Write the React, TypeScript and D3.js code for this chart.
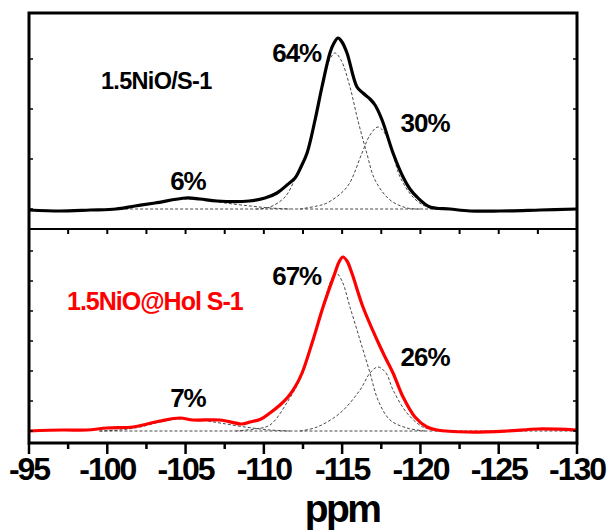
import React from "react";
import * as d3 from "d3";

// ---------- data (ppm, intensity above baseline) ----------
const topSpectrum: [number, number][] = [
  [-95.0, -1], [-96.98, -2], [-98.9, -1], [-100.56, 0], [-101.77, 3], [-103.05, 6],
  [-105.03, 11], [-105.92, 10], [-107.01, 8], [-109.05, 8], [-110.07, 11], [-110.84, 16],
  [-111.48, 24], [-111.99, 31], [-112.37, 42], [-112.76, 56], [-113.27, 89], [-113.71, 122],
  [-114.22, 156], [-114.48, 166], [-114.74, 171], [-114.99, 167], [-115.31, 156], [-115.95, 122],
  [-116.33, 116], [-116.78, 110], [-117.1, 104], [-117.55, 89], [-118.25, 56], [-118.89, 32],
  [-119.33, 20], [-119.78, 12], [-120.61, 2], [-121.89, 0], [-123.17, -2], [-125.08, -2],
  [-127.64, -1], [-130.0, 0],
];
const topComp1: [number, number][] = [
  [-109.5, 0], [-110.39, 2], [-111.35, 12], [-111.99, 30], [-112.76, 56], [-113.27, 89],
  [-113.71, 121], [-114.16, 148], [-114.54, 156], [-114.93, 149], [-115.5, 122], [-116.0, 89],
  [-116.57, 56], [-117.1, 29], [-118.06, 9], [-119.14, 1], [-119.97, 0],
];
const topComp2: [number, number][] = [
  [-112.3, 0], [-113.4, 3], [-114.03, 6], [-115.31, 22], [-116.27, 56], [-116.78, 74],
  [-117.29, 82], [-117.8, 74], [-118.19, 58], [-118.7, 32], [-119.52, 12], [-120.29, 3],
  [-121.25, 0],
];
const topComp3: [number, number][] = [
  [-100.17, 0], [-101.45, 2], [-102.73, 5], [-104.0, 9], [-105.16, 10], [-106.24, 9],
  [-107.52, 6], [-109.12, 3], [-110.39, 1], [-111.67, 0],
];
const topBaseline: [number, number][] = [[-100.5, 0], [-122, 0]];

const bottomSpectrum: [number, number][] = [
  [-95.0, 0], [-97.17, 1], [-98.7, 1], [-99.98, 3], [-101.64, 4], [-102.54, 7],
  [-103.37, 10], [-104.64, 13], [-105.47, 11], [-107.2, 11], [-108.6, 7], [-109.12, 9],
  [-109.82, 12], [-110.39, 18], [-111.03, 26], [-111.54, 34], [-111.99, 44], [-112.44, 58],
  [-113.14, 91], [-113.78, 124], [-114.54, 158], [-114.8, 169], [-115.05, 174], [-115.31, 170],
  [-115.62, 158], [-116.33, 124], [-117.23, 91], [-117.74, 74], [-118.25, 58], [-118.89, 34],
  [-119.65, 14], [-120.42, 4], [-121.06, 1], [-123.04, -1], [-125.53, 0], [-127.51, 2],
  [-130.0, 1],
];
const bottomComp1: [number, number][] = [
  [-108.2, 0], [-109.4, 2], [-110.39, 6], [-111.54, 30], [-112.44, 56], [-113.14, 90],
  [-113.78, 123], [-114.22, 148], [-114.61, 158], [-114.99, 150], [-115.5, 124], [-116.14, 91],
  [-116.78, 58], [-117.29, 31], [-118.06, 11], [-119.14, 3], [-120.3, 0],
];
const bottomComp2: [number, number][] = [
  [-112.31, 0], [-113.4, 4], [-114.87, 18], [-116.14, 41], [-116.78, 58], [-117.29, 64],
  [-117.8, 58], [-118.25, 41], [-119.14, 18], [-120.16, 4], [-121.25, 0],
];
const bottomComp3: [number, number][] = [
  [-99.5, 0], [-100.8, 1], [-102.1, 4], [-103.37, 9], [-104.64, 12], [-105.92, 11],
  [-107.2, 8], [-108.8, 4], [-110.39, 1], [-111.67, 0],
];
const bottomBaseline: [number, number][] = [[-99.5, 0], [-130, 0]];

const xMajorTicks = [-95, -100, -105, -110, -115, -120, -125, -130];
const xMinorTicks = [-97.5, -102.5, -107.5, -112.5, -117.5, -122.5, -127.5];
const topYTicks = [0, 50, 100, 150];
const bottomYTicks = [0, 30, 60, 90, 120, 150, 180];

const topLabels = [
  { text: "64%", ppm: -112.1, y: 147 },
  { text: "30%", ppm: -120.3, y: 77 },
  { text: "6%", ppm: -105.15, y: 19 },
];
const bottomLabels = [
  { text: "67%", ppm: -112.1, y: 146 },
  { text: "26%", ppm: -120.3, y: 65 },
  { text: "7%", ppm: -105.15, y: 24 },
];
const topName = "1.5NiO/S-1";
const bottomName = "1.5NiO@Hol S-1";
const xTitle = "ppm";

// ---------- layout ----------
const W = 610, H = 531;
const L = 29, R = 577, T = 13, MID = 229, B = 443;
const FONT = "Arial, 'Liberation Sans', Helvetica, sans-serif";

export default function App() {
  const x = d3.scaleLinear().domain([-95, -130]).range([L, R]);
  const yTop = d3.scaleLinear().domain([-20, 196]).range([MID, T]);
  const yBot = d3.scaleLinear().domain([-12, 202]).range([B, MID]);

  const mkLine = (ys: d3.ScaleLinear<number, number>) =>
    d3.line<[number, number]>()
      .x((d) => x(d[0]))
      .y((d) => ys(d[1]))
      .curve(d3.curveCatmullRom.alpha(0.5));
  const lt = mkLine(yTop);
  const lb = mkLine(yBot);
  const dashStyle = { fill: "none", stroke: "#333", strokeWidth: 0.9, strokeDasharray: "3,2" };

  return (
    <svg width={W} height={H} style={{ position: "absolute", left: 0, top: 0, background: "#fff" }}>
      {/* dashed components */}
      {[topComp1, topComp2, topComp3, topBaseline].map((d, i) => (
        <path key={"tc" + i} d={lt(d) || ""} {...dashStyle} />
      ))}
      {[bottomComp1, bottomComp2, bottomComp3, bottomBaseline].map((d, i) => (
        <path key={"bc" + i} d={lb(d) || ""} {...dashStyle} />
      ))}
      {/* spectra */}
      <path d={lt(topSpectrum) || ""} fill="none" stroke="#000" strokeWidth={3.2} strokeLinejoin="round" />
      <path d={lb(bottomSpectrum) || ""} fill="none" stroke="#ff0000" strokeWidth={3.2} strokeLinejoin="round" />

      {/* y ticks (inward) */}
      {topYTicks.map((t) => (
        <g key={"yt" + t}>
          <line x1={L} x2={L + 4} y1={yTop(t)} y2={yTop(t)} stroke="#000" strokeWidth={1.5} />
          <line x1={R} x2={R - 4} y1={yTop(t)} y2={yTop(t)} stroke="#000" strokeWidth={1.5} />
        </g>
      ))}
      {bottomYTicks.map((t) => (
        <g key={"yb" + t}>
          <line x1={L} x2={L + 4} y1={yBot(t)} y2={yBot(t)} stroke="#000" strokeWidth={1.5} />
          <line x1={R} x2={R - 4} y1={yBot(t)} y2={yBot(t)} stroke="#000" strokeWidth={1.5} />
        </g>
      ))}

      {/* middle axis ticks */}
      {[...xMajorTicks, ...xMinorTicks].map((t) => (
        <line key={"mt" + t} x1={x(t)} x2={x(t)} y1={MID} y2={MID + 5} stroke="#000" strokeWidth={2} />
      ))}
      {/* bottom axis ticks */}
      {xMajorTicks.map((t) => (
        <line key={"bt" + t} x1={x(t)} x2={x(t)} y1={B} y2={B + 11} stroke="#000" strokeWidth={2.5} />
      ))}
      {xMinorTicks.map((t) => (
        <line key={"bm" + t} x1={x(t)} x2={x(t)} y1={B} y2={B + 6} stroke="#000" strokeWidth={2.5} />
      ))}

      {/* frame */}
      <rect x={L} y={T} width={R - L} height={B - T} fill="none" stroke="#000" strokeWidth={3} />
      <line x1={L} x2={R} y1={MID} y2={MID} stroke="#000" strokeWidth={2} />

      {/* tick labels */}
      {xMajorTicks.map((t) => (
        <text key={"tl" + t} x={x(t)} y={480} textAnchor="middle" fontFamily={FONT} fontWeight="bold"
          fontSize={32} letterSpacing={-2} fill="#000">{t}</text>
      ))}
      <text x={x(-115)} y={522} textAnchor="middle" fontFamily={FONT} fontWeight="bold" fontSize={39}
        letterSpacing={-2.5} fill="#000">{xTitle}</text>

      {/* annotations */}
      {topLabels.map((l) => (
        <text key={"l" + l.text} x={x(l.ppm)} y={yTop(l.y)} textAnchor="middle" fontFamily={FONT}
          fontWeight="bold" fontSize={26} letterSpacing={-1} fill="#000">{l.text}</text>
      ))}
      {bottomLabels.map((l) => (
        <text key={"b" + l.text} x={x(l.ppm)} y={yBot(l.y)} textAnchor="middle" fontFamily={FONT}
          fontWeight="bold" fontSize={26} letterSpacing={-1} fill="#000">{l.text}</text>
      ))}
      <text x={101} y={89} fontFamily={FONT} fontWeight="bold" fontSize={23.5} letterSpacing={-0.7} fill="#000">{topName}</text>
      <text x={67} y={310} fontFamily={FONT} fontWeight="bold" fontSize={25} letterSpacing={-1} fill="#ff0000">{bottomName}</text>
    </svg>
  );
}
